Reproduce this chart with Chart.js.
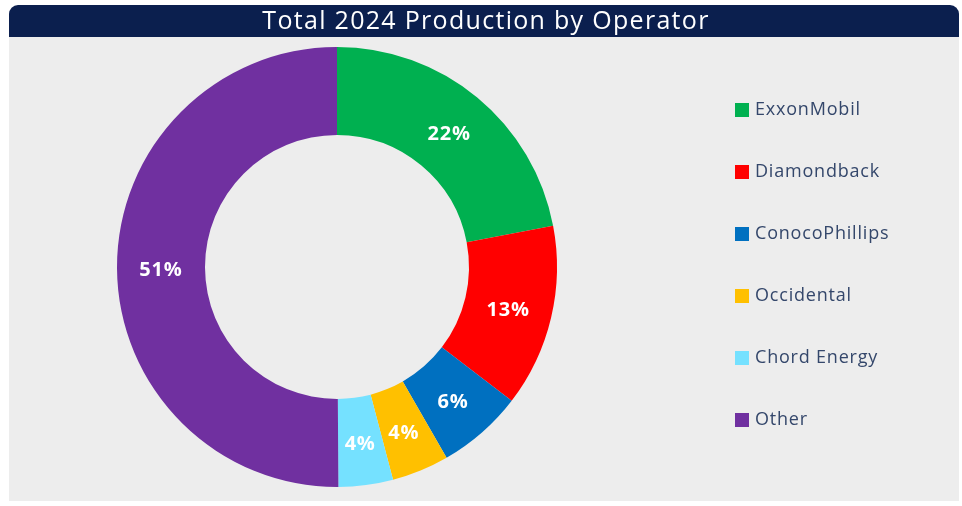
<!DOCTYPE html>
<html>
<head>
<meta charset="utf-8">
<script src="https://cdn.jsdelivr.net/npm/chart.js@4"></script>
<style>
  html, body { margin: 0; padding: 0; background: #ffffff; }
  #wrap { width: 962px; height: 506px; position: relative; }
</style>
</head>
<body>
<div id="wrap"><canvas id="c" width="962" height="506"></canvas></div>
<script>
const chartTitle = 'Total 2024 Production by Operator';
const operators = ['ExxonMobil', 'Diamondback', 'ConocoPhillips', 'Occidental', 'Chord Energy', 'Other'];
const shares = [22.0, 13.4, 6.3, 4.2, 4.0, 50.1];
const shareLabels = ['22%', '13%', '6%', '4%', '4%', '51%'];
const sliceColors = ['#00b050', '#ff0000', '#0070c0', '#ffc000', '#75e1ff', '#7030a0'];

const framePlugin = {
  id: 'frame',
  beforeDraw(chart) {
    const ctx = chart.ctx;
    ctx.save();
    ctx.fillStyle = '#ffffff';
    ctx.fillRect(0, 0, chart.width, chart.height);
    ctx.fillStyle = '#ededed';
    ctx.fillRect(9, 37, 950, 464);
    ctx.fillStyle = '#0b1f4e';
    ctx.beginPath();
    ctx.roundRect(9, 5, 950, 32, [9, 9, 0, 0]);
    ctx.fill();
    ctx.fillStyle = '#ffffff';
    ctx.font = '400 25px "Open Sans", sans-serif';
    ctx.letterSpacing = '1.3px';
    ctx.textAlign = 'center';
    ctx.textBaseline = 'middle';
    ctx.fillText(chartTitle, 486, 22);
    ctx.restore();
  },
  afterDatasetsDraw(chart) {
    const ctx = chart.ctx;
    const meta = chart.getDatasetMeta(0);
    ctx.save();
    ctx.fillStyle = '#ffffff';
    ctx.font = 'bold 20px "Open Sans", sans-serif';
    ctx.letterSpacing = '0.8px';
    ctx.textAlign = 'center';
    ctx.textBaseline = 'middle';
    meta.data.forEach((arc, i) => {
      const p = arc.getCenterPoint();
      ctx.fillText(shareLabels[i], p.x, p.y + 3);
    });
    // legend
    const labels = chart.data.labels;
    const colors = chart.data.datasets[0].backgroundColor;
    ctx.textAlign = 'left';
    ctx.font = '18px "Open Sans", sans-serif';
    ctx.letterSpacing = '0.8px';
    labels.forEach((lab, i) => {
      const y = 109 + i * 62;
      ctx.fillStyle = colors[i];
      ctx.fillRect(735, y - 6, 14, 14);
      ctx.fillStyle = '#34476b';
      ctx.fillText(lab, 755, y + 1);
    });
    ctx.restore();
  }
};

new Chart(document.getElementById('c'), {
  type: 'doughnut',
  data: {
    labels: operators,
    datasets: [{
      data: shares,
      backgroundColor: sliceColors,
      borderWidth: 0,
      hoverOffset: 0
    }]
  },
  options: {
    responsive: false,
    animation: false,
    cutout: '60%',
    layout: { padding: { left: 117, right: 405, top: 47, bottom: 19 } },
    plugins: {
      legend: { display: false },
      title: { display: false },
      tooltip: { enabled: false }
    }
  },
  plugins: [framePlugin]
});
</script>
</body>
</html>
